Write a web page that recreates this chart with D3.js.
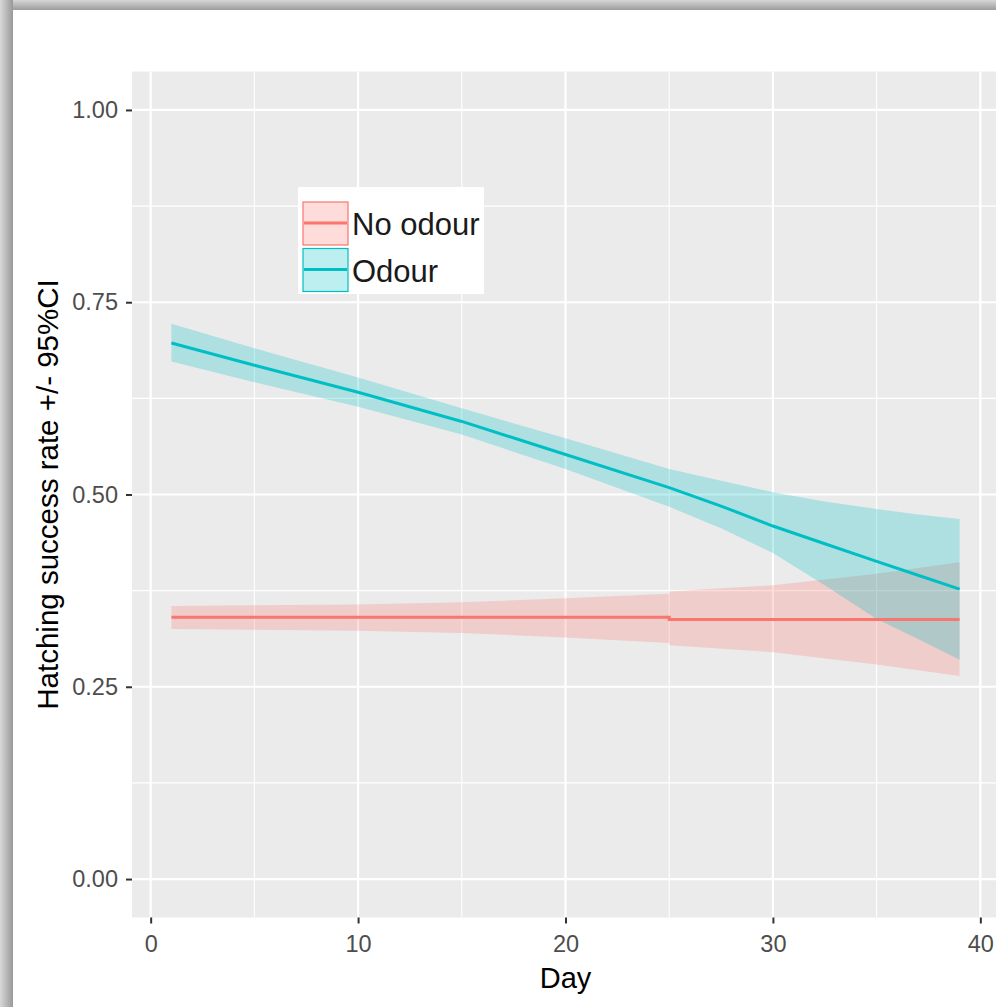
<!DOCTYPE html>
<html>
<head>
<meta charset="utf-8">
<script src="https://cdn.jsdelivr.net/npm/d3@7"></script>
<style>
  body { margin: 0; background: #fff; }
  svg { display: block; font-family: "Liberation Sans", Arial, sans-serif; }
</style>
</head>
<body>
<div id="chart"></div>
<script>
// values
let groups = ["No odour", "Odour"]
let groupColors = ["#F8766D", "#00BFC4"]

let noOdourDays = [1, 5, 10, 15, 20, 25, 25, 30, 35, 39]
let noOdourFit  = [0.3405, 0.3405, 0.3405, 0.3405, 0.3405, 0.3405, 0.3375, 0.3375, 0.3375, 0.3375]
let noOdourLow  = [0.325, 0.324, 0.323, 0.320, 0.314, 0.307, 0.304, 0.295, 0.279, 0.264]
let noOdourHigh = [0.355, 0.356, 0.357, 0.360, 0.365, 0.371, 0.374, 0.382, 0.397, 0.412]

let odourDays = [1, 5, 10, 15, 20, 25, 27.5, 30, 32.5, 35, 37, 39]
let odourFit  = [0.697, 0.668, 0.633, 0.595, 0.552, 0.509, 0.485, 0.459, 0.436, 0.413, 0.395, 0.377]
let odourLow  = [0.673, 0.646, 0.614, 0.578, 0.533, 0.484, 0.456, 0.424, 0.382, 0.338, 0.312, 0.285]
let odourHigh = [0.722, 0.690, 0.652, 0.612, 0.573, 0.533, 0.518, 0.503, 0.491, 0.481, 0.474, 0.468]

let xTicks = [0, 10, 20, 30, 40]
let xMinor = [5, 15, 25, 35]
let yTicks = [0, 0.25, 0.5, 0.75, 1]
let yMinor = [0.125, 0.375, 0.625, 0.875]

document.addEventListener('DOMContentLoaded', function() {
    drawChart()
})

function drawChart() {
    let W = 996, H = 1007
    let panel = {left: 132, right: 999, top: 71.5, bottom: 917.5}

    let svg = d3.select("#chart").append("svg")
        .attr("width", W)
        .attr("height", H)

    // screenshot frame shadow
    let defs = svg.append("defs")
    let gTop = defs.append("linearGradient").attr("id", "shTop")
        .attr("x1", 0).attr("y1", 0).attr("x2", 0).attr("y2", 1)
    gTop.append("stop").attr("offset", "0%").attr("stop-color", "#d6d6d6")
    gTop.append("stop").attr("offset", "100%").attr("stop-color", "#9c9c9c")
    let gLeft = defs.append("linearGradient").attr("id", "shLeft")
        .attr("x1", 0).attr("y1", 0).attr("x2", 1).attr("y2", 0)
    gLeft.append("stop").attr("offset", "0%").attr("stop-color", "#d8d8d8")
    gLeft.append("stop").attr("offset", "100%").attr("stop-color", "#999999")

    svg.append("rect").attr("x", 0).attr("y", 0).attr("width", W).attr("height", 10)
        .attr("fill", "url(#shTop)")
    svg.append("rect").attr("x", 0).attr("y", 0).attr("width", 13).attr("height", H)
        .attr("fill", "url(#shLeft)")
    svg.append("rect").attr("x", 13).attr("y", 10).attr("width", W - 13).attr("height", H - 10)
        .attr("fill", "#ffffff")

    var x = d3.scaleLinear()
        .domain([-0.9, 40.9])
        .range([panel.left, panel.right])
    var y = d3.scaleLinear()
        .domain([-0.05, 1.05])
        .range([panel.bottom, panel.top])

    // panel
    svg.append("rect")
        .attr("x", panel.left).attr("y", panel.top)
        .attr("width", panel.right - panel.left)
        .attr("height", panel.bottom - panel.top)
        .attr("fill", "#EBEBEB")

    let grid = svg.append("g")
    grid.selectAll(".xminor").data(xMinor).enter().append("line")
        .attr("x1", d => x(d)).attr("x2", d => x(d))
        .attr("y1", panel.top).attr("y2", panel.bottom)
        .attr("stroke", "#fff").attr("stroke-width", 1.1)
    grid.selectAll(".yminor").data(yMinor).enter().append("line")
        .attr("y1", d => y(d)).attr("y2", d => y(d))
        .attr("x1", panel.left).attr("x2", panel.right)
        .attr("stroke", "#fff").attr("stroke-width", 1.1)
    grid.selectAll(".xmajor").data(xTicks).enter().append("line")
        .attr("x1", d => x(d)).attr("x2", d => x(d))
        .attr("y1", panel.top).attr("y2", panel.bottom)
        .attr("stroke", "#fff").attr("stroke-width", 2.2)
    grid.selectAll(".ymajor").data(yTicks).enter().append("line")
        .attr("y1", d => y(d)).attr("y2", d => y(d))
        .attr("x1", panel.left).attr("x2", panel.right)
        .attr("stroke", "#fff").attr("stroke-width", 2.2)

    let series = [
        {key: groups[0], color: groupColors[0], days: noOdourDays, fit: noOdourFit, low: noOdourLow, high: noOdourHigh},
        {key: groups[1], color: groupColors[1], days: odourDays, fit: odourFit, low: odourLow, high: odourHigh}
    ].map(function(s) {
        s.values = s.days.map(function(d, i) {
            return {day: d, fit: s.fit[i], low: s.low[i], high: s.high[i]}
        })
        return s
    })

    let area = d3.area()
        .x(d => x(d.day))
        .y0(d => y(d.low))
        .y1(d => y(d.high))
    let line = d3.line()
        .x(d => x(d.day))
        .y(d => y(d.fit))

    svg.selectAll(".ribbon")
        .data(series)
        .enter()
        .append("path")
            .attr("class", "ribbon")
            .attr("fill", d => d.color)
            .attr("fill-opacity", 0.26)
            .attr("d", d => area(d.values))

    svg.selectAll(".fitline")
        .data(series)
        .enter()
        .append("path")
            .attr("class", "fitline")
            .attr("fill", "none")
            .attr("stroke", d => d.color)
            .attr("stroke-width", 3)
            .attr("d", d => line(d.values))

    // axes
    let yAxis = svg.append("g")
        .attr("transform", "translate(" + panel.left + ",0)")
        .call(d3.axisLeft(y).tickValues(yTicks).tickFormat(d3.format(".2f")).tickSize(6).tickPadding(8))
    let xAxis = svg.append("g")
        .attr("transform", "translate(0," + panel.bottom + ")")
        .call(d3.axisBottom(x).tickValues(xTicks).tickFormat(d3.format("d")).tickSize(6).tickPadding(11.5))
    ;[xAxis, yAxis].forEach(function(ax) {
        ax.select(".domain").remove()
        ax.selectAll(".tick line").attr("stroke", "#333").attr("stroke-width", 2)
        ax.selectAll(".tick text")
            .attr("fill", "#4D4D4D")
            .style("font-size", "23.5px")
            .style("font-family", "'Liberation Sans', Arial, sans-serif")
    })

    // axis titles
    svg.append("text")
        .attr("x", (panel.left + panel.right) / 2)
        .attr("y", 988)
        .attr("text-anchor", "middle")
        .attr("fill", "#000")
        .style("font-size", "29px")
        .text("Day")
    svg.append("text")
        .attr("transform", "translate(58," + (panel.top + panel.bottom) / 2 + ") rotate(-90)")
        .attr("text-anchor", "middle")
        .attr("fill", "#000")
        .style("font-size", "29.5px")
        .text("Hatching success rate +/- 95%CI")

    // legend
    let legend = svg.append("g").attr("transform", "translate(298,187)")
    legend.append("rect")
        .attr("width", 186).attr("height", 107)
        .attr("fill", "#fff")
    let keys = legend.selectAll(".key")
        .data(series)
        .enter()
        .append("g")
            .attr("transform", (d, i) => "translate(5," + (15 + i * 46.5) + ")")
    keys.append("rect")
        .attr("width", 45).attr("height", 43)
        .attr("fill", d => d.color)
        .attr("fill-opacity", 0.26)
        .attr("stroke", d => d.color)
        .attr("stroke-width", 1.2)
    keys.append("line")
        .attr("x1", 1).attr("x2", 44)
        .attr("y1", 21).attr("y2", 21)
        .attr("stroke", d => d.color)
        .attr("stroke-width", 3)
    keys.append("text")
        .attr("x", 49)
        .attr("y", 33)
        .attr("fill", "#1a1a1a")
        .style("font-size", "31px")
        .text(d => d.key)
}
</script>
</body>
</html>
